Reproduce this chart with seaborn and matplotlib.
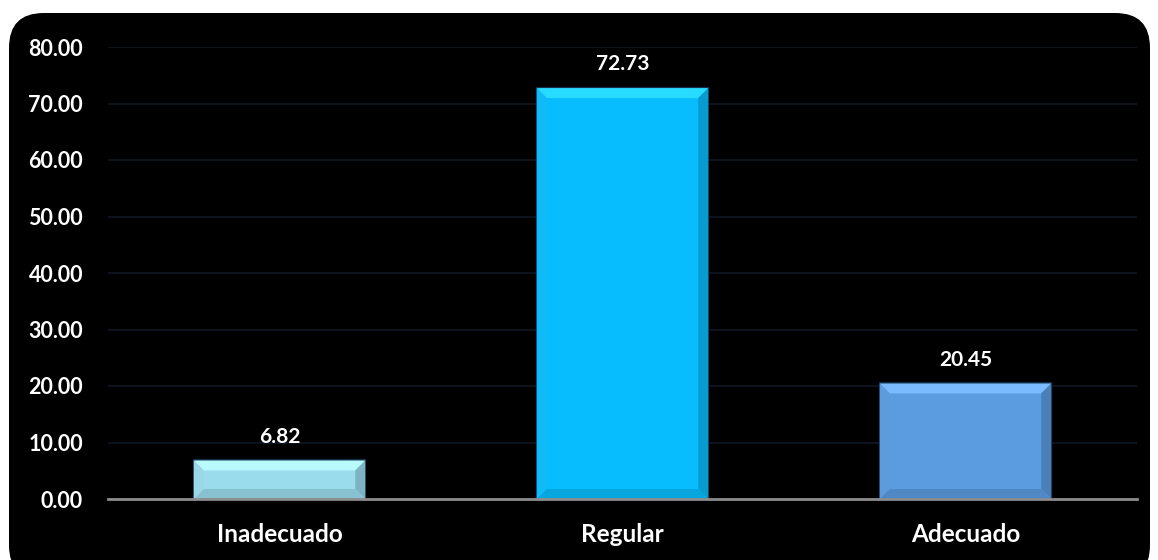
import matplotlib
matplotlib.use("Agg")
import matplotlib.pyplot as plt
import seaborn as sns
import pandas as pd
from matplotlib.patches import FancyBboxPatch, Polygon
import matplotlib.colors as mcolors

categories = ["Inadecuado", "Regular", "Adecuado"]
values = [6.82, 72.73, 20.45]
colors = ["#9ADBEC", "#08BDFD", "#5B9BE0"]
yticks = [0, 10, 20, 30, 40, 50, 60, 70, 80]

sns.set_theme(style="white")
plt.rcParams["font.family"] = ["Lato", "DejaVu Sans"]
plt.rcParams["font.weight"] = "bold"

fig = plt.figure(figsize=(11.58, 5.6), dpi=100)
fig.patch.set_facecolor("white")

# rounded black background
W, H = 1158, 560
bg = FancyBboxPatch((9 / W, -20 / H), (1150 - 9) / W, (547 + 20) / H,
                    boxstyle="round,pad=0,rounding_size=0.03",
                    transform=fig.transFigure, facecolor="black",
                    edgecolor="none", zorder=-10, mutation_aspect=W / H)
fig.patches.append(bg)

ax = fig.add_axes([108 / W, 1 - 499 / H, (1137 - 108) / W, (499 - 47) / H])
ax.set_zorder(1)
ax.set_facecolor("none")

df = pd.DataFrame({"cat": categories, "val": values})
sns.barplot(data=df, x="cat", y="val", hue="cat", palette=colors,
            width=0.5, ax=ax, legend=False, saturation=1,
            edgecolor="#12304A", linewidth=1.5, zorder=3)

ax.set_ylim(0, 80)
ax.set_xlim(-0.5, 2.5)
ax.set_yticks(yticks)
ax.set_yticklabels([f"{v:.2f}" for v in yticks])
ax.yaxis.grid(True, color="#0F1722", linewidth=1.2)
ax.set_axisbelow(True)
ax.set_xlabel("")
ax.set_ylabel("")
for s in ["top", "right", "left"]:
    ax.spines[s].set_visible(False)
ax.spines["bottom"].set_color("#8C8C8C")
ax.spines["bottom"].set_linewidth(2)
ax.spines["bottom"].set_zorder(5)
ax.tick_params(axis="y", length=0, pad=18, labelsize=15.5, labelcolor="white")
ax.tick_params(axis="x", length=0, pad=17, labelsize=17.5, labelcolor="white")
for t in ax.get_xticklabels() + ax.get_yticklabels():
    t.set_fontweight("bold")

# bevel effect derived from the drawn bars
fig.canvas.draw()
inv = ax.transData.inverted()
for bar, c in zip(list(ax.patches), colors):
    x0, y0 = bar.get_x(), bar.get_y()
    x1, y1 = x0 + bar.get_width(), y0 + bar.get_height()
    (px0, py0) = ax.transData.transform((x0, y0))
    (px1, py1) = ax.transData.transform((x1, y1))
    b = min(10, (py1 - py0) / 2.2)
    rgb = mcolors.to_rgb(c)
    light = tuple(min(1, v + 0.12) for v in rgb)
    right_c = tuple(v * 0.82 for v in rgb)
    bottom_c = tuple(v * 0.88 for v in rgb)
    left_c = tuple(min(1, v * 0.95 + 0.03) for v in rgb)
    def P(pts):
        return [inv.transform(p) for p in pts]
    top = P([(px0, py1), (px1, py1), (px1 - b, py1 - b), (px0 + b, py1 - b)])
    right = P([(px1, py1), (px1, py0), (px1 - b, py0 + b), (px1 - b, py1 - b)])
    bottom = P([(px0, py0), (px1, py0), (px1 - b, py0 + b), (px0 + b, py0 + b)])
    left = P([(px0, py0), (px0, py1), (px0 + b, py1 - b), (px0 + b, py0 + b)])
    for poly, col in [(top, light), (right, right_c), (bottom, bottom_c),
                      (left, left_c)]:
        ax.add_patch(Polygon(poly, closed=True, facecolor=col, edgecolor="none",
                             zorder=3.5))

for cont in ax.containers:
    ax.bar_label(cont, labels=[f"{v:.2f}" for v in cont.datavalues],
                 padding=10, color="white", fontsize=15, fontweight="bold")

fig.savefig("out.png", dpi=100, facecolor="white")
